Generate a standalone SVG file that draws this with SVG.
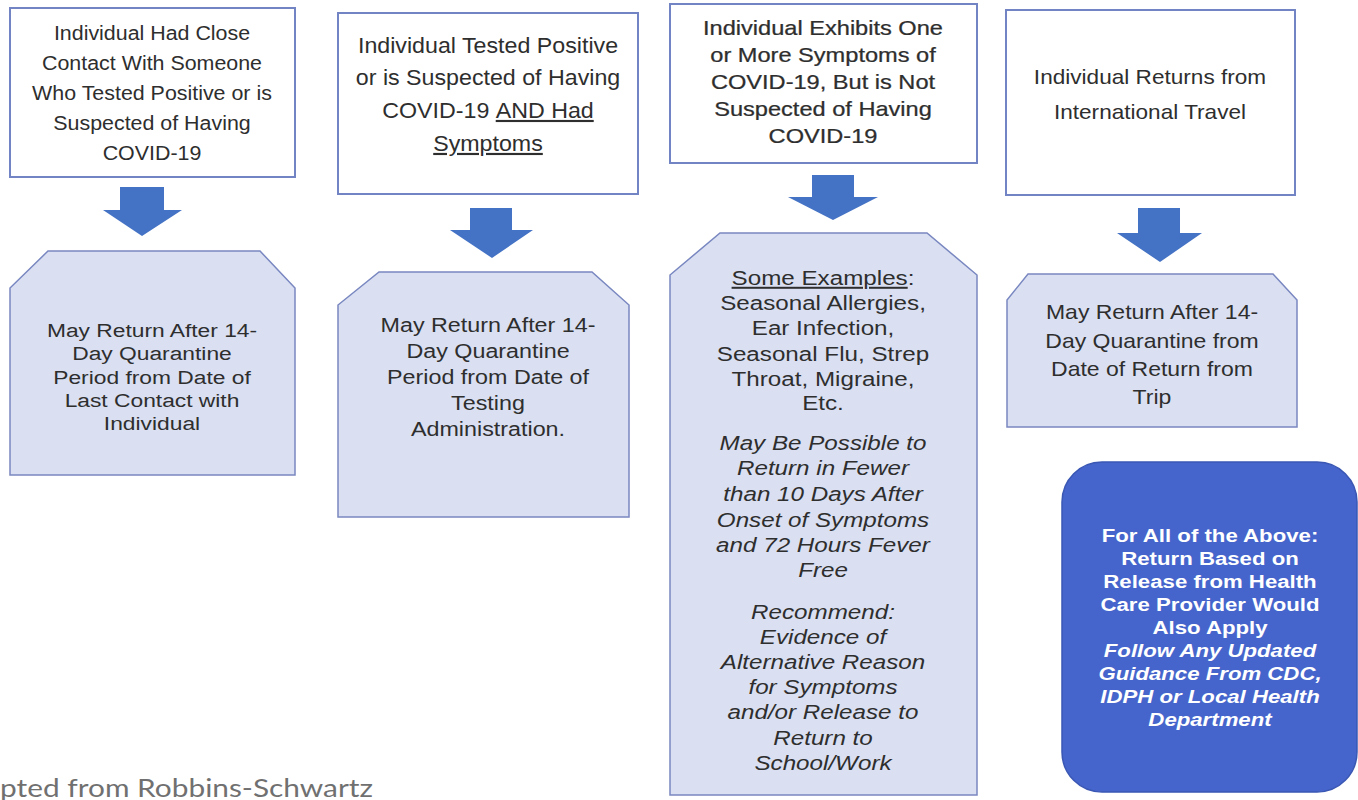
<svg xmlns="http://www.w3.org/2000/svg" width="1358" height="800" viewBox="0 0 1358 800">
<style>
.top{fill:#ffffff;stroke:#7384c4;stroke-width:2}
.oct{fill:#dae0f2;stroke:#7987c0;stroke-width:1.5}
.arr{fill:#4472c4}
.t{font-family:"Liberation Sans",Arial,sans-serif;fill:#2e2e2e;text-anchor:middle}
.w{font-family:"Liberation Sans",Arial,sans-serif;fill:#ffffff;text-anchor:middle;font-weight:bold}
.i{font-style:italic}
.u{text-decoration:underline}
</style>
<rect width="1358" height="800" fill="#ffffff"/>

<g id="connectors">
<polygon class="arr" points="120,187 164,187 164,210 182,210 142,236 103,210 120,210"/>
<polygon class="arr" points="470,208 512,208 512,230 533,230 492,258 450,230 470,230"/>
<polygon class="arr" points="812,175 854,175 854,197 878,197 833,220 788,197 812,197"/>
<polygon class="arr" points="1138,208 1180,208 1180,233 1202,233 1160,262 1117,233 1138,233"/>
</g>

<g id="n1">
<rect class="top" x="10" y="8" width="285" height="169"/>
<g transform="translate(152,0) scale(1.07,1)">
<text class="t" font-size="20"><tspan x="0" y="40">Individual Had Close</tspan><tspan x="0" y="70">Contact With Someone</tspan><tspan x="0" y="100">Who Tested Positive or is</tspan><tspan x="0" y="130">Suspected of Having</tspan><tspan x="0" y="160">COVID-19</tspan></text>
</g>
</g>

<g id="n2">
<rect class="top" x="338" y="13" width="300" height="181"/>
<g transform="translate(488,0) scale(1.08,1)">
<text class="t" font-size="21.5"><tspan x="0" y="53">Individual Tested Positive</tspan><tspan x="0" y="85">or is Suspected of Having</tspan><tspan x="0" y="118">COVID-19 <tspan class="u">AND Had</tspan></tspan><tspan x="0" y="151" class="u">Symptoms</tspan></text>
</g>
</g>

<g id="n3">
<rect class="top" x="670" y="4" width="307" height="159"/>
<g transform="translate(823,0) scale(1.18,1)">
<text class="t" font-size="20" stroke="#2e2e2e" stroke-width="0.25"><tspan x="0" y="35">Individual Exhibits One</tspan><tspan x="0" y="62">or More Symptoms of</tspan><tspan x="0" y="89">COVID-19, But is Not</tspan><tspan x="0" y="116">Suspected of Having</tspan><tspan x="0" y="143">COVID-19</tspan></text>
</g>
</g>

<g id="n4">
<rect class="top" x="1006" y="10" width="289" height="185"/>
<g transform="translate(1150,0) scale(1.13,1)">
<text class="t" font-size="20"><tspan x="0" y="84">Individual Returns from</tspan><tspan x="0" y="119">International Travel</tspan></text>
</g>
</g>

<g id="r1">
<polygon class="oct" points="48,251 260,251 295,288 295,475 10,475 10,288"/>
<g transform="translate(152,0) scale(1.2,1)">
<text class="t" font-size="19"><tspan x="0" y="337">May Return After 14-</tspan><tspan x="0" y="360">Day Quarantine</tspan><tspan x="0" y="384">Period from Date of</tspan><tspan x="0" y="407">Last Contact with</tspan><tspan x="0" y="430">Individual</tspan></text>
</g>
</g>

<g id="r2">
<polygon class="oct" points="379,272 592,272 629,305 629,517 338,517 338,305"/>
<g transform="translate(488,0) scale(1.11,1)">
<text class="t" font-size="21"><tspan x="0" y="332">May Return After 14-</tspan><tspan x="0" y="358">Day Quarantine</tspan><tspan x="0" y="384">Period from Date of</tspan><tspan x="0" y="410">Testing</tspan><tspan x="0" y="436">Administration.</tspan></text>
</g>
</g>

<g id="r3">
<polygon class="oct" points="720,233 927,233 977,275 977,795 670,795 670,275"/>
<g transform="translate(823,0) scale(1.21,1)">
<text class="t" font-size="20"><tspan x="0" y="285"><tspan class="u">Some Examples</tspan>:</tspan><tspan x="0" y="310">Seasonal Allergies,</tspan><tspan x="0" y="335">Ear Infection,</tspan><tspan x="0" y="361">Seasonal Flu, Strep</tspan><tspan x="0" y="386">Throat, Migraine,</tspan><tspan x="0" y="410">Etc.</tspan></text>
<text class="t i" font-size="20"><tspan x="0" y="450">May Be Possible to</tspan><tspan x="0" y="475">Return in Fewer</tspan><tspan x="0" y="501">than 10 Days After</tspan><tspan x="0" y="527">Onset of Symptoms</tspan><tspan x="0" y="552">and 72 Hours Fever</tspan><tspan x="0" y="577">Free</tspan></text>
<text class="t i" font-size="20"><tspan x="0" y="619">Recommend:</tspan><tspan x="0" y="644">Evidence of</tspan><tspan x="0" y="669">Alternative Reason</tspan><tspan x="0" y="694">for Symptoms</tspan><tspan x="0" y="719">and/or Release to</tspan><tspan x="0" y="745">Return to</tspan><tspan x="0" y="770">School/Work</tspan></text>
</g>
</g>

<g id="r4">
<polygon class="oct" points="1028,274 1273,274 1297,300 1297,427 1007,427 1007,300"/>
<g transform="translate(1152,0) scale(1.15,1)">
<text class="t" font-size="20"><tspan x="0" y="319">May Return After 14-</tspan><tspan x="0" y="348">Day Quarantine from</tspan><tspan x="0" y="376">Date of Return from</tspan><tspan x="0" y="404">Trip</tspan></text>
</g>
</g>

<g id="note">
<rect x="1062" y="462" width="295" height="330" rx="40" ry="40" fill="#4565cc" stroke="#3a57b4" stroke-width="1.5"/>
<g transform="translate(1210,0) scale(1.2,1)">
<text class="w" font-size="18.5"><tspan x="0" y="542">For All of the Above:</tspan><tspan x="0" y="565">Return Based on</tspan><tspan x="0" y="588">Release from Health</tspan><tspan x="0" y="611">Care Provider Would</tspan><tspan x="0" y="634">Also Apply</tspan><tspan x="0" y="657" class="i">Follow Any Updated</tspan><tspan x="0" y="680" class="i">Guidance From CDC,</tspan><tspan x="0" y="703" class="i">IDPH or Local Health</tspan><tspan x="0" y="726" class="i">Department</tspan></text>
</g>
</g>

<text x="0" y="797" font-family="Lato,'Noto Sans',sans-serif" font-size="25" fill="#707070" textLength="373" lengthAdjust="spacingAndGlyphs">pted from Robbins-Schwartz</text>
</svg>
